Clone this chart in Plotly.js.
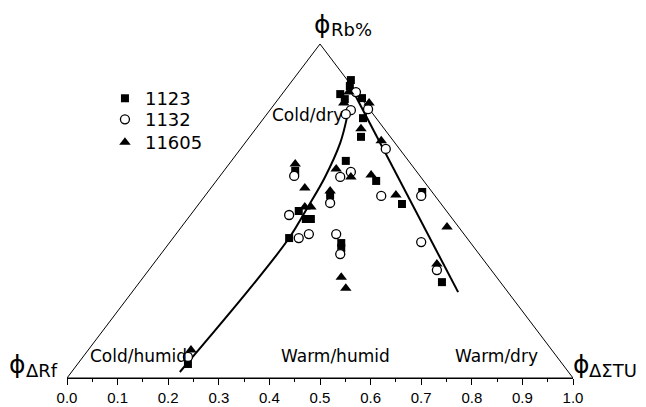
<!DOCTYPE html>
<html>
<head>
<meta charset="utf-8">
<script src="https://cdn.plot.ly/plotly-3.0.1.min.js"></script>
<style>html,body{margin:0;padding:0;background:#fff;}#chart{width:646px;height:407px;}</style>
</head>
<body>
<div id="chart"></div>
<script>
// Triangle frame (x along base, y = height fraction)
const frameX = [0, 0.5, 1, 0];
const frameY = [0, 1, 0, 0];

// Series 1123 (squares)
const s1123X = [0.561,0.559,0.549,0.540,0.583,0.585,0.581,0.551,0.451,0.611,0.520,0.662,0.702,0.472,0.482,0.458,0.439,0.542,0.542,0.741,0.239];
const s1123Y = [0.892,0.874,0.835,0.850,0.838,0.778,0.722,0.650,0.620,0.590,0.548,0.521,0.557,0.476,0.476,0.500,0.419,0.404,0.389,0.287,0.042];

// Series 1132 (open circles)
const s1132X = [0.571,0.595,0.561,0.551,0.630,0.449,0.540,0.561,0.520,0.621,0.700,0.439,0.458,0.478,0.532,0.540,0.700,0.731,0.239];
const s1132Y = [0.856,0.805,0.802,0.790,0.686,0.605,0.602,0.617,0.524,0.545,0.545,0.488,0.419,0.431,0.431,0.371,0.407,0.323,0.063];

// Series 11605 (triangles)
const s11605X = [0.557,0.547,0.597,0.581,0.621,0.451,0.532,0.561,0.601,0.470,0.520,0.650,0.470,0.482,0.751,0.731,0.542,0.551,0.245];
const s11605Y = [0.856,0.823,0.823,0.746,0.710,0.641,0.626,0.602,0.608,0.569,0.560,0.548,0.512,0.512,0.452,0.341,0.302,0.269,0.084];

// Fitted curves
const leftCurveX = [0.223,0.362,0.439,0.476,0.510,0.540,0.553];
const leftCurveY = [0.018,0.269,0.419,0.512,0.602,0.704,0.778];
const rightLineX = [0.559,0.773];
const rightLineY = [0.877,0.257];

const tickVals = [0,0.1,0.2,0.3,0.4,0.5,0.6,0.7,0.8,0.9,1.0];
const tickText = ['0.0','0.1','0.2','0.3','0.4','0.5','0.6','0.7','0.8','0.9','1.0'];

const FONT = 'Liberation Sans, Arial, Helvetica, sans-serif';
const WFONT = 'DejaVu Sans, Verdana, sans-serif';

const traces = [
  {x: frameX, y: frameY, mode: 'lines', line: {color: '#000', width: 1}, showlegend: false, hoverinfo: 'skip'},
  {x: leftCurveX, y: leftCurveY, mode: 'lines', line: {color: '#000', width: 2, shape: 'spline', smoothing: 1}, showlegend: false},
  {x: rightLineX, y: rightLineY, mode: 'lines', line: {color: '#000', width: 2}, showlegend: false},
  {x: s1123X, y: s1123Y, mode: 'markers', name: '1123', cliponaxis: false, legend: 'legend',
   marker: {symbol: 'square', size: 8, color: '#000', line: {width: 0}}},
  {x: s1132X, y: s1132Y, mode: 'markers', name: '1132', cliponaxis: false, legend: 'legend2',
   marker: {symbol: 'circle', size: 9, color: '#fff', line: {width: 1.3, color: '#000'}}},
  {x: s11605X, y: s11605Y, mode: 'markers', name: '11605', cliponaxis: false, legend: 'legend3',
   marker: {symbol: 'triangle-up', size: 10, color: '#000', line: {width: 0}}}
];

const ann = (x, y, text, size, xanchor, fam) => ({x, y, xref: 'paper', yref: 'paper', text, showarrow: false,
  font: {family: fam || WFONT, size: size, color: '#000'}, xanchor: xanchor || 'center', yanchor: 'middle'});

const legBase = (y) => ({x: 0.075, y: y, xanchor: 'left', yanchor: 'top', bgcolor: 'rgba(0,0,0,0)',
  font: {family: WFONT, size: 18, color: '#000'}, itemsizing: 'trace'});

const layout = {
  width: 646, height: 407,
  margin: {l: 67, r: 73, t: 44, b: 29, pad: 0},
  paper_bgcolor: '#fff', plot_bgcolor: '#fff',
  font: {family: FONT, size: 15, color: '#000'},
  showlegend: true,
  legend: legBase(0.892),
  legend2: legBase(0.829),
  legend3: legBase(0.760),
  xaxis: {range: [0, 1], tickvals: tickVals, ticktext: tickText, ticks: 'outside', ticklen: 6,
    tickwidth: 1, tickcolor: '#000', showline: true, linecolor: '#000', linewidth: 1,
    showgrid: false, zeroline: false, fixedrange: true,
    tickfont: {family: FONT, size: 15, color: '#000'},
    minor: {dtick: 0.05, tick0: 0, ticks: 'outside', ticklen: 3, tickcolor: '#000', tickwidth: 1, showgrid: false}},
  yaxis: {range: [0, 1], visible: false, showgrid: false, zeroline: false, fixedrange: true},
  annotations: [
    ann(0.504, 1.057, 'ϕ', 25, 'center'),
    ann(0.517, 1.042, 'Rb%', 18, 'left'),
    ann(-0.097, 0.039, 'ϕ', 25, 'center'),
    ann(-0.084, 0.022, 'ΔRf', 18, 'left'),
    ann(1.016, 0.039, 'ϕ', 25, 'center'),
    ann(1.027, 0.022, 'ΔΣTU', 18, 'left'),
    ann(0.549, 0.787, 'Cold/dry', 17, 'right'),
    ann(0.0415, 0.066, 'Cold/humid', 17, 'left'),
    ann(0.530, 0.066, 'Warm/humid', 17, 'center'),
    ann(0.935, 0.066, 'Warm/dry', 17, 'right')
  ]
};

Plotly.newPlot('chart', traces, layout, {displayModeBar: false, staticPlot: true});
</script>
</body>
</html>
